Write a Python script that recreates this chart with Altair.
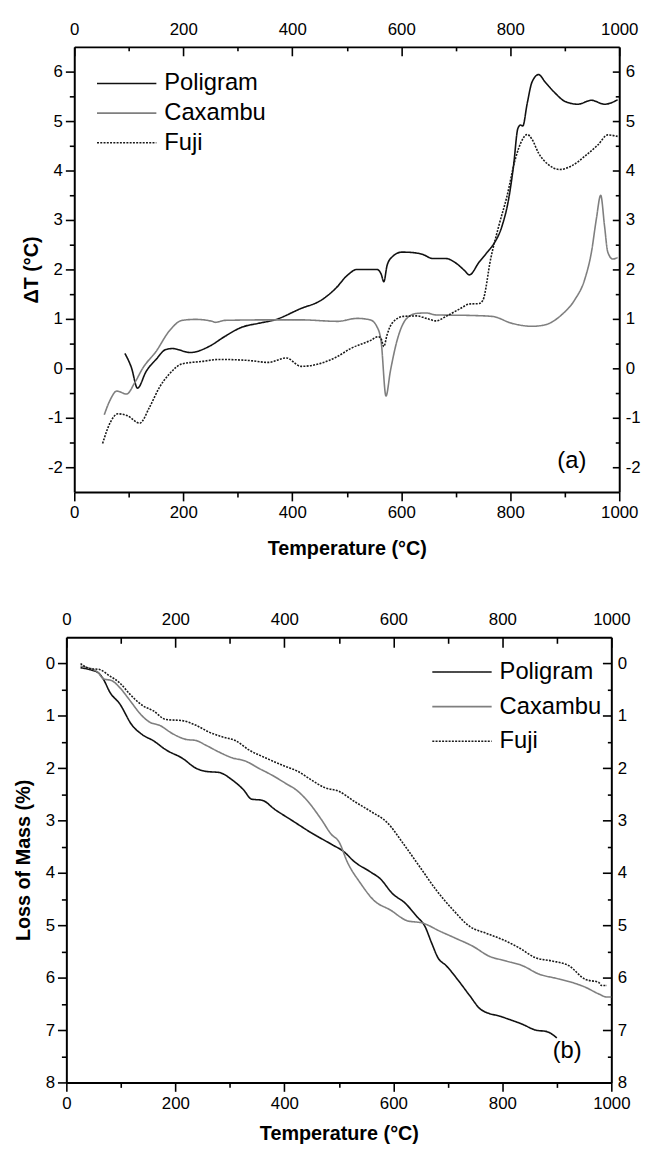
import altair as alt
import pandas as pd

FONT = "Liberation Sans"
SERIES = ["Poligram", "Caxambu", "Fuji"]
COLORS = ["#111111", "#7f7f7f", "#1a1a1a"]
DASHES = [[1, 0], [1, 0], [2, 1.3]]

# ---------------- (a) DTA : Temperature (°C) vs ΔT (°C) ----------------
a_pol_T = [93, 105, 116, 132, 150, 168, 180, 213, 247, 277, 307, 338, 368, 416, 452, 480, 501,
           519, 555, 563, 568, 574, 583, 601, 622, 640, 658, 682, 700, 716, 725, 743, 758, 770,
           785, 797, 806, 814, 819, 823, 831, 840, 852, 864, 882, 900, 924, 949, 973, 997]
a_pol_v = [0.30, 0.01, -0.40, -0.06, 0.18, 0.38, 0.40, 0.32, 0.44, 0.65, 0.83, 0.91, 0.98, 1.21,
           1.37, 1.62, 1.88, 2.00, 2.00, 1.91, 1.75, 2.08, 2.25, 2.35, 2.34, 2.30, 2.22, 2.22,
           2.13, 1.98, 1.89, 2.15, 2.35, 2.52, 2.88, 3.42, 4.09, 4.85, 4.92, 4.90, 5.35, 5.79,
           5.94, 5.79, 5.57, 5.40, 5.34, 5.42, 5.34, 5.43]

a_cax_T = [55, 65, 78, 96, 111, 126, 150, 174, 198, 223, 253, 259, 277, 356, 416, 483, 519, 543,
           555, 563, 572, 580, 592, 610, 628, 646, 664, 725, 767, 803, 840, 864, 894, 918, 937,
           949, 958, 966, 973, 979, 988, 997]
a_cax_v = [-0.94, -0.66, -0.46, -0.52, -0.29, 0.01, 0.34, 0.75, 0.97, 0.99, 0.95, 0.93, 0.97,
           0.98, 0.98, 0.95, 1.01, 0.98, 0.85, 0.55, -0.56, -0.06, 0.55, 1.01, 1.11, 1.12, 1.08,
           1.07, 1.05, 0.91, 0.85, 0.88, 1.08, 1.38, 1.81, 2.35, 3.02, 3.50, 2.88, 2.35, 2.21, 2.24]

a_fuji_T = [52, 65, 80, 98, 120, 138, 156, 174, 198, 235, 265, 319, 356, 389, 416, 452, 483, 507,
            543, 558, 563, 568, 574, 583, 604, 628, 646, 664, 682, 707, 725, 743, 750, 764, 779,
            794, 809, 822, 831, 840, 852, 870, 891, 912, 937, 961, 979, 997]
a_fuji_v = [-1.52, -1.12, -0.92, -0.96, -1.11, -0.79, -0.39, -0.12, 0.09, 0.14, 0.18, 0.16, 0.12,
            0.21, 0.04, 0.10, 0.24, 0.40, 0.56, 0.64, 0.60, 0.44, 0.68, 0.91, 1.05, 1.06, 1.01,
            0.96, 1.05, 1.20, 1.30, 1.31, 1.38, 2.21, 2.88, 3.48, 4.22, 4.62, 4.73, 4.63, 4.35,
            4.12, 4.02, 4.09, 4.29, 4.52, 4.72, 4.69]

# ---------------- (b) TG : Temperature (°C) vs Loss of Mass (%) ----------------
b_pol_T = [26, 41, 59, 68, 80, 98, 120, 141, 159, 183, 213, 238, 256, 280, 304, 325, 340, 359,
           383, 413, 449, 486, 510, 528, 558, 576, 598, 622, 643, 658, 670, 682, 697, 722, 740,
           761, 800, 837, 861, 882, 900]
b_pol_v = [0.08, 0.11, 0.18, 0.30, 0.55, 0.77, 1.17, 1.37, 1.47, 1.65, 1.81, 2.00, 2.06, 2.08,
           2.22, 2.41, 2.59, 2.61, 2.79, 2.99, 3.23, 3.45, 3.60, 3.78, 3.98, 4.11, 4.39, 4.58,
           4.83, 5.02, 5.33, 5.62, 5.77, 6.09, 6.34, 6.61, 6.75, 6.89, 7.00, 7.03, 7.15]

b_cax_T = [26, 56, 68, 84, 98, 117, 138, 153, 171, 195, 220, 238, 256, 280, 304, 328, 353, 377,
           401, 425, 443, 468, 486, 500, 516, 540, 564, 595, 625, 655, 685, 715, 746, 776, 807,
           837, 867, 898, 928, 952, 977, 992, 1000]
b_cax_v = [0.05, 0.15, 0.29, 0.33, 0.46, 0.71, 0.99, 1.12, 1.18, 1.34, 1.45, 1.47, 1.56, 1.69,
           1.80, 1.86, 2.00, 2.13, 2.28, 2.44, 2.63, 2.98, 3.26, 3.40, 3.80, 4.20, 4.52, 4.71,
           4.91, 4.96, 5.11, 5.25, 5.40, 5.59, 5.68, 5.77, 5.93, 6.01, 6.09, 6.18, 6.31, 6.37, 6.37]

b_fuji_T = [26, 44, 59, 80, 98, 117, 141, 159, 183, 213, 238, 262, 286, 310, 335, 365, 401, 425,
            449, 474, 500, 528, 558, 589, 619, 649, 679, 710, 740, 770, 800, 831, 861, 891, 922,
            952, 977, 982, 992]
b_fuji_v = [0.00, 0.10, 0.11, 0.24, 0.37, 0.59, 0.81, 0.90, 1.07, 1.09, 1.18, 1.31, 1.40, 1.47,
            1.65, 1.80, 1.96, 2.06, 2.22, 2.37, 2.44, 2.63, 2.82, 3.04, 3.45, 3.89, 4.33, 4.71,
            5.02, 5.15, 5.27, 5.43, 5.62, 5.68, 5.77, 6.03, 6.09, 6.15, 6.15]

# ---------------- axes ticks / labels ----------------
X_MAJOR = [0, 200, 400, 600, 800, 1000]
X_MINOR = [100, 300, 500, 700, 900]
A_Y_MAJOR = [-2, -1, 0, 1, 2, 3, 4, 5, 6]
A_Y_MINOR = [-1.5, -0.5, 0.5, 1.5, 2.5, 3.5, 4.5, 5.5]
B_Y_MAJOR = [0, 1, 2, 3, 4, 5, 6, 7, 8]
B_Y_MINOR = [0.5, 1.5, 2.5, 3.5, 4.5, 5.5, 6.5, 7.5]

a_note = ["(a)"]
a_note_T = [913]
a_note_v = [-1.87]
b_note = ["(b)"]
b_note_T = [919]
b_note_v = [7.41]


def long_df(parts):
    rows = []
    for name, T, v in parts:
        for t, y in zip(T, v):
            rows.append({"series": name, "T": t, "v": y})
    return pd.DataFrame(rows)


df_a = long_df([("Poligram", a_pol_T, a_pol_v), ("Caxambu", a_cax_T, a_cax_v),
                ("Fuji", a_fuji_T, a_fuji_v)])
df_b = long_df([("Poligram", b_pol_T, b_pol_v), ("Caxambu", b_cax_T, b_cax_v),
                ("Fuji", b_fuji_T, b_fuji_v)])
note_a = pd.DataFrame({"label": a_note, "T": a_note_T, "v": a_note_v})
note_b = pd.DataFrame({"label": b_note, "T": b_note_T, "v": b_note_v})

LBL = "'' + datum.value"


def panel(df, notes, xs, ys, ymaj, ymin, ytitle, ytp, xtp, left_off, width, xtitle_x, leg,
          top_major, top_minor, right_major, right_minor):
    common = dict(grid=False, labelFlush=False, labelOverlap=False)
    lines = alt.Chart(df).mark_line(strokeWidth=1.6, interpolate="monotone").encode(
        x=alt.X("T:Q", scale=xs, axis=alt.Axis(
            orient="bottom", values=X_MAJOR, tickSize=9, labelPadding=4, domain=True,
            title="Temperature (°C)", titlePadding=xtp, titleX=xtitle_x, labelExpr=LBL, **common)),
        y=alt.Y("v:Q", scale=ys, axis=alt.Axis(
            orient="left", values=ymaj, tickSize=9, labelPadding=3, domain=True, offset=left_off,
            title=ytitle, titlePadding=ytp, labelExpr=LBL, **common)),
        color=alt.Color("series:N", scale=alt.Scale(domain=SERIES, range=COLORS), legend=leg),
        strokeDash=alt.StrokeDash("series:N", scale=alt.Scale(domain=SERIES, range=DASHES),
                                  legend=leg),
    )
    minor_bl = alt.Chart(df).mark_line(opacity=0).encode(
        x=alt.X("T:Q", scale=xs, axis=alt.Axis(
            orient="bottom", values=X_MINOR, tickSize=5, labels=False, domain=False, title=None,
            **common)),
        y=alt.Y("v:Q", scale=ys, axis=alt.Axis(
            orient="left", values=ymin, tickSize=5, labels=False, domain=False, title=None,
            offset=left_off, **common)),
    )
    frame_tr = alt.Chart(df).mark_line(opacity=0).encode(
        x=alt.X("T:Q", scale=xs, axis=alt.Axis(
            orient="top", ticks=False, labels=False, domain=True, title=None, **common)),
        y=alt.Y("v:Q", scale=ys, axis=alt.Axis(
            orient="right", ticks=False, labels=False, domain=True, title=None, **common)),
    )
    major_tr = alt.Chart(df).mark_line(opacity=0).encode(
        x=alt.X("T:Q", scale=xs, axis=alt.Axis(
            orient="top", values=X_MAJOR, tickSize=top_major, offset=-top_major, labelPadding=9,
            domain=False, title=None, labelExpr=LBL, **common)),
        y=alt.Y("v:Q", scale=ys, axis=alt.Axis(
            orient="right", values=ymaj, tickSize=right_major, offset=-right_major,
            labelPadding=6, domain=False, title=None, labelExpr=LBL, **common)),
    )
    minor_tr = alt.Chart(df).mark_line(opacity=0).encode(
        x=alt.X("T:Q", scale=xs, axis=alt.Axis(
            orient="top", values=X_MINOR, tickSize=top_minor, offset=-top_minor, labels=False,
            domain=False, title=None, **common)),
        y=alt.Y("v:Q", scale=ys, axis=alt.Axis(
            orient="right", values=ymin, tickSize=right_minor, offset=-right_minor,
            labels=False, domain=False, title=None, **common)),
    )
    text = alt.Chart(notes).mark_text(font=FONT, fontSize=24, color="black",
                                      align="center", baseline="middle").encode(
        x=alt.X("T:Q", scale=xs, axis=None),
        y=alt.Y("v:Q", scale=ys, axis=None),
        text="label:N",
    )
    return alt.layer(lines, minor_bl, frame_tr, major_tr, minor_tr, text).resolve_axis(
        x="independent", y="independent").properties(width=width, height=450)


def legend(lx, ly, clip):
    return alt.Legend(orient="none", legendX=lx, legendY=ly, title=None, symbolType="stroke",
                      symbolSize=3600, symbolStrokeWidth=1.6, labelFont=FONT, labelFontSize=24,
                      labelColor="black", clipHeight=clip, rowPadding=0, labelOffset=7,
                      padding=0)


top = panel(
    df_a, note_a,
    xs=alt.Scale(domain=[0, 1000], range=[8, 559], nice=False, zero=False),
    ys=alt.Scale(domain=[-2.5, 6.5], nice=False, zero=False),
    ymaj=A_Y_MAJOR, ymin=A_Y_MINOR, ytitle="ΔT (°C)", ytp=6, xtp=18, left_off=-8, width=559,
    xtitle_x=283.5, leg=legend(30, 22, 30),
    top_major=9, top_minor=4, right_major=7, right_minor=4,
)
bottom = panel(
    df_b, note_b,
    xs=alt.Scale(domain=[0, 1000], nice=False, zero=False),
    ys=alt.Scale(domain=[-0.5, 8], reverse=True, nice=False, zero=False),
    ymaj=B_Y_MAJOR, ymin=B_Y_MINOR, ytitle="Loss of Mass (%)", ytp=12, xtp=13, left_off=0,
    width=551, xtitle_x=275.5, leg=legend(369, 17.5, 35),
    top_major=10, top_minor=6, right_major=9, right_minor=4,
)

chart = alt.vconcat(top, bottom, spacing=53).resolve_scale(
    x="independent", y="independent", color="independent", strokeDash="independent"
).resolve_legend(color="independent", strokeDash="independent").properties(
    padding={"left": 5, "top": 6, "right": 0, "bottom": 0}
).configure_view(stroke=None).configure_axis(
    labelFont=FONT, labelFontSize=17, labelColor="black",
    titleFont=FONT, titleFontSize=20, titleFontWeight="bold", titleColor="black",
    tickColor="black", domainColor="black", domainWidth=2, tickWidth=1.6,
)

chart.save("out.html", embed_options={"renderer": "svg", "actions": False})
